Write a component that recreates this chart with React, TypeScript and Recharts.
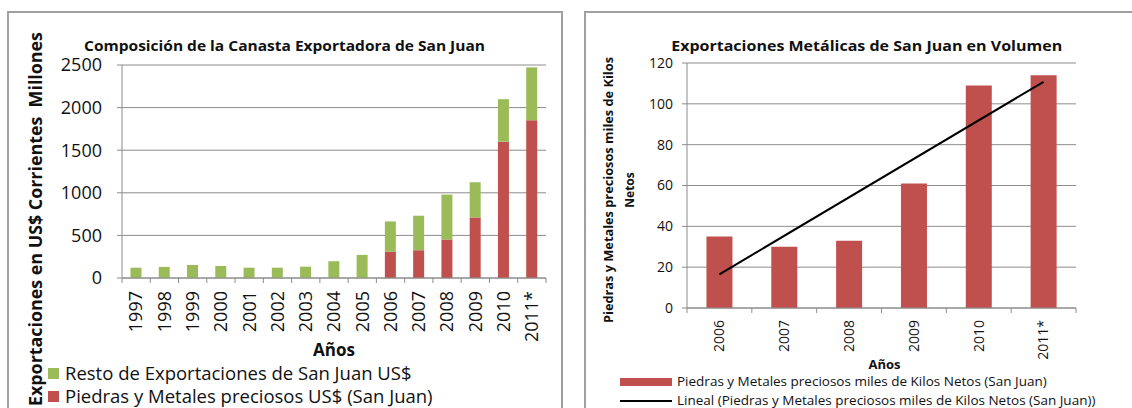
import React from 'react';
import { BarChart, ComposedChart, Bar, Line, XAxis, YAxis, CartesianGrid, Legend } from 'recharts';

// ---------- data ----------
const yearsLeft = ['1997', '1998', '1999', '2000', '2001', '2002', '2003', '2004', '2005', '2006', '2007', '2008', '2009', '2010', '2011*'];
const piedrasUsd = [0, 0, 0, 0, 0, 0, 0, 0, 0, 310, 326, 452, 711, 1600, 1851];
const restoUsd = [121, 130, 153, 141, 121, 121, 133, 197, 271, 354, 405, 527, 413, 499, 621];
const leftTicks = [0, 500, 1000, 1500, 2000, 2500];

const yearsRight = ['2006', '2007', '2008', '2009', '2010', '2011*'];
const kilosNetos = [35, 30, 33, 61, 109, 114];
// trend line (Lineal) end points
const trendLineal: (number | null)[] = [16.5, null, null, null, null, 110.8];
const rightTicks = [0, 20, 40, 60, 80, 100, 120];

const leftTitle = 'Composición de la Canasta Exportadora de San Juan';
const leftYLabel = 'Exportaciones en US$ Corrientes  Millones';
const leftLegend = ['Resto de Exportaciones de San Juan US$', 'Piedras y Metales preciosos US$ (San Juan)'];
const rightTitle = 'Exportaciones Metálicas de San Juan en Volumen';
const rightYLabel = ['Piedras y Metales preciosos miles de Kilos', 'Netos'];
const rightLegend = ['Piedras y Metales preciosos miles de Kilos Netos (San Juan)', 'Lineal (Piedras y Metales preciosos miles de Kilos Netos (San Juan))'];
const xTitle = 'Años';

const leftData = yearsLeft.map((y, i) => ({ year: y, piedras: piedrasUsd[i], resto: restoUsd[i] }));
const rightData = yearsRight.map((y, i) => ({ year: y, kilos: kilosNetos[i], trend: trendLineal[i] }));

// ---------- styles ----------
const RED = '#C0504D';
const GREEN = '#9BBB59';
const GRID = '#8c8c8c';
const AXIS = '#8c8c8c';
const TXT = '#111';
const FONT = "'Open Sans', 'Liberation Sans', sans-serif";

const makeXTick = (fontSize: number, gap: number, count: number, fallbackHalf: number) => (props: any) => {
  const { x, y, payload, index } = props;
  const off = payload && typeof payload.offset === 'number' && payload.offset > 0 ? payload.offset : fallbackHalf;
  return (
    <g>
      <line x1={x - off} x2={x - off} y1={y} y2={y + 5} stroke={AXIS} />
      {index === count - 1 && <line x1={x + off} x2={x + off} y1={y} y2={y + 5} stroke={AXIS} />}
      <text
        transform={`translate(${x},${y + gap}) rotate(-90)`}
        textAnchor="end"
        dy="0.35em"
        fontSize={fontSize}
        fill={TXT}
      >
        {payload.value}
      </text>
    </g>
  );
};

const LeftLegend = () => (
  <div style={{ fontSize: 18.5, lineHeight: '23px', color: TXT, fontFamily: FONT, whiteSpace: 'nowrap' }}>
    {[GREEN, RED].map((c, i) => (
      <div key={i} style={{ display: 'flex', alignItems: 'center', height: 23 }}>
        <span style={{ display: 'inline-block', width: 11, height: 11, background: c, marginRight: 6, marginTop: 2 }} />
        <span>{leftLegend[i]}</span>
      </div>
    ))}
  </div>
);

const RightLegend = () => (
  <div style={{ fontSize: 13.5, lineHeight: '19px', color: TXT, fontFamily: FONT, whiteSpace: 'nowrap' }}>
    <div style={{ display: 'flex', alignItems: 'center', height: 19 }}>
      <span style={{ display: 'inline-block', width: 52, height: 8, background: RED, marginRight: 5 }} />
      <span>{rightLegend[0]}</span>
    </div>
    <div style={{ display: 'flex', alignItems: 'center', height: 19 }}>
      <span style={{ display: 'inline-block', width: 52, height: 2, background: '#000', marginRight: 5 }} />
      <span>{rightLegend[1]}</span>
    </div>
  </div>
);

export default function App() {
  return (
    <div
      style={{
        position: 'absolute',
        left: 0,
        top: 0,
        width: 1132,
        height: 408,
        overflow: 'hidden',
        background: '#fff',
        fontFamily: FONT,
      }}
    >
      {/* chart frames */}
      <div style={{ position: 'absolute', left: 7, top: 11, width: 556, height: 440, border: '2px solid #a0a0a0', boxSizing: 'border-box' }} />
      <div style={{ position: 'absolute', left: 584, top: 11, width: 620, height: 440, border: '2px solid #a0a0a0', boxSizing: 'border-box' }} />

      {/* left chart */}
      <div style={{ position: 'absolute', left: 0, top: 0 }}>
        <BarChart
          width={561}
          height={408}
          data={leftData}
          margin={{ top: 65, right: 15, left: 0, bottom: 0 }}
          barCategoryGap="30%"
        >
          <CartesianGrid vertical={false} stroke={GRID} />
          <XAxis
            dataKey="year"
            interval={0}
            height={130}
            tickSize={0}
            tickMargin={0}
            tickLine={false}
            axisLine={{ stroke: AXIS }}
            tick={makeXTick(18, 13, yearsLeft.length, 14.1)}
            label={{
              content: (p: any) => {
                const vb = p.viewBox || { x: 122, width: 424 };
                return (
                  <text x={vb.x + vb.width / 2} y={356} textAnchor="middle" fontSize={17} fontWeight="bold" fill={TXT}>
                    {xTitle}
                  </text>
                );
              },
            }}
          />
          <YAxis
            width={122}
            domain={[0, 2500]}
            ticks={leftTicks}
            interval={0}
            tickSize={5}
            tickMargin={15}
            axisLine={{ stroke: AXIS }}
            tickLine={{ stroke: AXIS }}
            tick={{ fontSize: 18, fill: TXT }}
            label={{
              content: () => (
                <text
                  transform={`translate(42,219) rotate(-90)`}
                  textAnchor="middle"
                  fontSize={18}
                  fontWeight="bold"
                  fill={TXT}
                  textLength={374}
                  lengthAdjust="spacingAndGlyphs"
                  style={{ whiteSpace: 'pre' }}
                >
                  {leftYLabel}
                </text>
              ),
            }}
          />
          <Bar dataKey="piedras" stackId="a" fill={RED} isAnimationActive={false} />
          <Bar dataKey="resto" stackId="a" fill={GREEN} isAnimationActive={false} />
          <Legend
            layout="horizontal"
            verticalAlign="middle"
            align="center"
            wrapperStyle={{ left: 48, top: 361, width: 500 }}
            content={() => <LeftLegend />}
          />
          <text x={284.5} y={51} textAnchor="middle" fontSize={15} fontWeight="bold" fill={TXT} textLength={401} lengthAdjust="spacingAndGlyphs">
            {leftTitle}
          </text>
        </BarChart>
      </div>

      {/* right chart */}
      <div style={{ position: 'absolute', left: 585, top: 0 }}>
        <ComposedChart
          width={547}
          height={408}
          data={rightData}
          margin={{ top: 63, right: 56, left: 0, bottom: 0 }}
          barCategoryGap="30%"
        >
          <CartesianGrid vertical={false} stroke={GRID} />
          <XAxis
            dataKey="year"
            interval={0}
            height={100}
            tickSize={0}
            tickMargin={0}
            tickLine={false}
            axisLine={{ stroke: AXIS }}
            tick={makeXTick(14, 12, yearsRight.length, 32.4)}
            label={{
              content: (p: any) => {
                const vb = p.viewBox || { x: 102, width: 389 };
                return (
                  <text x={vb.x + vb.width / 2 + 3} y={369} textAnchor="middle" fontSize={13} fontWeight="bold" fill={TXT}>
                    {xTitle}
                  </text>
                );
              },
            }}
          />
          <YAxis
            width={102}
            domain={[0, 120]}
            ticks={rightTicks}
            interval={0}
            tickSize={5}
            tickMargin={9}
            axisLine={{ stroke: AXIS }}
            tickLine={{ stroke: AXIS }}
            tick={{ fontSize: 14, fill: TXT }}
            label={{
              content: () => (
                <text transform={`translate(28,190) rotate(-90)`} textAnchor="middle" fontSize={12} fontWeight="bold" fill={TXT}>
                  <tspan x={0} y={0} textLength={266} lengthAdjust="spacingAndGlyphs">{rightYLabel[0]}</tspan>
                  <tspan x={0} y={21}>{rightYLabel[1]}</tspan>
                </text>
              ),
            }}
          />
          <Bar dataKey="kilos" fill={RED} isAnimationActive={false} />
          <Line
            dataKey="trend"
            type="linear"
            stroke="#000"
            strokeWidth={2}
            dot={false}
            activeDot={false}
            connectNulls
            isAnimationActive={false}
          />
          <Legend
            layout="horizontal"
            verticalAlign="middle"
            align="center"
            wrapperStyle={{ left: 35, top: 372, width: 520 }}
            content={() => <RightLegend />}
          />
          <text x={281.7} y={51} textAnchor="middle" fontSize={15} fontWeight="bold" fill={TXT} textLength={391} lengthAdjust="spacingAndGlyphs">
            {rightTitle}
          </text>
        </ComposedChart>
      </div>
    </div>
  );
}
